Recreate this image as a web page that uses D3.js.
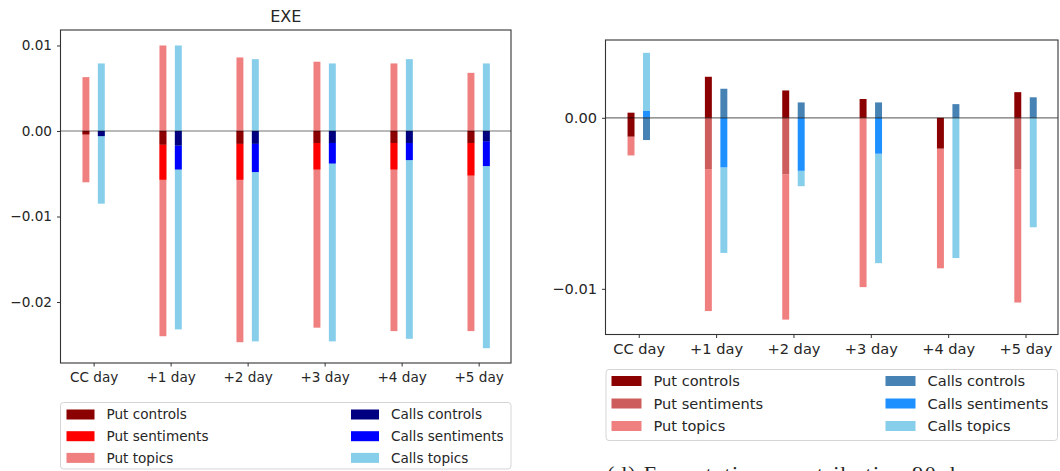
<!DOCTYPE html>
<html>
<head>
<meta charset="utf-8">
<script src="https://cdn.jsdelivr.net/npm/d3@7"></script>
<style>
  html, body { margin: 0; padding: 0; background: #fff; }
  svg { display: block; }
  text { font-family: "DejaVu Sans", sans-serif; fill: #262626; }
</style>
</head>
<body>
<svg id="chart" width="1060" height="471"></svg>
<script>
// ---------- DATA ----------
const categories = ["CC day", "+1 day", "+2 day", "+3 day", "+4 day", "+5 day"];

// Left panel (EXE): each entry is [from, to] of a bar segment
const exePutTopics   = [[0.0063, -0.0060], [0.0100, -0.0240], [0.0086, -0.0247], [0.0081, -0.0230], [0.0079, -0.0234], [0.0068, -0.0234]];
const exePutSent     = [[0, 0], [-0.0016, -0.0057], [-0.0015, -0.0057], [-0.0014, -0.0045], [-0.0014, -0.0045], [-0.0014, -0.0052]];
const exePutCtrl     = [[0, -0.0004], [0, -0.0016], [0, -0.0015], [0, -0.0014], [0, -0.0014], [0, -0.0014]];
const exeCallTopics  = [[0.0079, -0.0085], [0.0100, -0.0232], [0.0084, -0.0246], [0.0079, -0.0246], [0.0084, -0.0243], [0.0079, -0.0254]];
const exeCallSent    = [[0, 0], [-0.0017, -0.0045], [-0.0015, -0.0048], [-0.0014, -0.0038], [-0.0014, -0.0034], [-0.0012, -0.0041]];
const exeCallCtrl    = [[0, -0.0006], [0, -0.0017], [0, -0.0015], [0, -0.0014], [0, -0.0014], [0, -0.0012]];
const exeTicks = [0.01, 0.00, -0.01, -0.02];

// Right panel
const rPutTopics  = [[-0.0011, -0.0022], [-0.0030, -0.0113], [-0.0033, -0.0118], [0, -0.0099], [-0.0018, -0.0088], [-0.0030, -0.0108]];
const rPutSent    = [[0, 0], [0, -0.0030], [0, -0.0033], [0, 0], [0, 0], [0, -0.0030]];
const rPutCtrl    = [[0.0003, -0.0011], [0.0024, 0], [0.0016, 0], [0.0011, 0], [0, -0.0018], [0.0015, 0]];
const rCallTopics = [[0.0038, 0.0004], [-0.0029, -0.0079], [-0.0031, -0.0040], [-0.0021, -0.0085], [0, -0.0082], [0, -0.0064]];
const rCallSent   = [[0.0004, 0], [0, -0.0029], [0, -0.0031], [0, -0.0021], [0, 0], [0, 0]];
const rCallCtrl   = [[0, -0.0013], [0.0017, 0], [0.0009, 0], [0.0009, 0], [0.0008, 0], [0.0012, 0]];
const rTicks = [0.00, -0.01];

const legendLabels = ["Put controls", "Put sentiments", "Put topics", "Calls controls", "Calls sentiments", "Calls topics"];
const captionText = "(d) Expectations contribution 90 days";

// ---------- DRAW ----------
const svg = d3.select("#chart");
const fmt = v => d3.format(".2f")(v).replace("-", "\u2212");

function panel(cfg) {
  const g = svg.append("g");
  const x = d3.scaleLinear().domain([-0.43, 5.42]).range([cfg.left, cfg.right]);
  const y = d3.scaleLinear().domain(cfg.yDomain).range([cfg.bottom, cfg.top]);
  const bw = x(0.09) - x(0);

  const series = [
    { data: cfg.putTopics, color: cfg.colors[2], off: -0.1 },
    { data: cfg.callTopics, color: cfg.colors[5], off: 0.1 },
    { data: cfg.putSent, color: cfg.colors[1], off: -0.1 },
    { data: cfg.callSent, color: cfg.colors[4], off: 0.1 },
    { data: cfg.putCtrl, color: cfg.colors[0], off: -0.1 },
    { data: cfg.callCtrl, color: cfg.colors[3], off: 0.1 }
  ];
  series.forEach(s => {
    g.append("g").selectAll("rect")
      .data(s.data.map((d, i) => ({ i, a: d[0], b: d[1] })).filter(d => d.a !== d.b))
      .join("rect")
      .attr("x", d => x(d.i + s.off) - bw / 2)
      .attr("width", bw)
      .attr("y", d => y(Math.max(d.a, d.b)))
      .attr("height", d => Math.abs(y(d.a) - y(d.b)))
      .attr("fill", s.color);
  });

  // zero line
  g.append("line")
    .attr("x1", cfg.left).attr("x2", cfg.right)
    .attr("y1", y(0)).attr("y2", y(0))
    .attr("stroke", "rgba(0,0,0,0.55)").attr("stroke-width", 1.2);

  // frame
  g.append("rect")
    .attr("x", cfg.left).attr("y", cfg.top)
    .attr("width", cfg.right - cfg.left).attr("height", cfg.bottom - cfg.top)
    .attr("fill", "none").attr("stroke", "#333").attr("stroke-width", 1.1);

  // y axis
  const ya = g.append("g").attr("transform", `translate(${cfg.left},0)`)
    .call(d3.axisLeft(y).tickValues(cfg.ticks).tickFormat(fmt).tickSize(3.5).tickPadding(5));
  ya.select(".domain").remove();
  ya.selectAll("line").attr("stroke", "#333");
  ya.selectAll("text").style("font-size", cfg.fs + "px").attr("fill", "#262626");

  // x axis
  const xa = g.append("g").attr("transform", `translate(0,${cfg.bottom})`)
    .call(d3.axisBottom(x).tickValues(d3.range(categories.length)).tickFormat(i => categories[i]).tickSize(3.5).tickPadding(6));
  xa.select(".domain").remove();
  xa.selectAll("line").attr("stroke", "#333");
  xa.selectAll("text").style("font-size", cfg.fs + "px").attr("fill", "#262626");

  if (cfg.title) {
    g.append("text").attr("x", (cfg.left + cfg.right) / 2).attr("y", 22)
      .attr("text-anchor", "middle").style("font-size", "16px").text(cfg.title);
  }

  // legend
  const L = cfg.legend;
  g.append("rect")
    .attr("x", L.x).attr("y", L.y).attr("width", L.w).attr("height", L.h)
    .attr("rx", 3).attr("fill", "#fff").attr("stroke", "#d5d5d5").attr("stroke-width", 1);
  legendLabels.forEach((lab, k) => {
    const col = Math.floor(k / 3), row = k % 3;
    const px = L.x + (col === 0 ? L.c1 : L.c2);
    const cy = L.y + L.r0 + row * L.rs;
    g.append("rect").attr("x", px).attr("y", cy - 5).attr("width", L.pw).attr("height", 10)
      .attr("fill", cfg.colors[k]);
    g.append("text").attr("x", px + L.pw + L.gap).attr("y", cy).attr("dy", "0.36em")
      .style("font-size", cfg.fs + "px").text(lab);
  });
}

panel({
  title: "EXE",
  left: 60.5, right: 511, top: 30, bottom: 363,
  yDomain: [-0.02713, 0.01181],
  ticks: exeTicks, fs: 13.6,
  putTopics: exePutTopics, putSent: exePutSent, putCtrl: exePutCtrl,
  callTopics: exeCallTopics, callSent: exeCallSent, callCtrl: exeCallCtrl,
  colors: ["#8b0000", "#ff0000", "#f08080", "#000080", "#0000ff", "#87ceeb"],
  legend: { x: 60.5, y: 402.5, w: 450.5, h: 66.5, c1: 6, c2: 290.5, r0: 12, rs: 21.7, pw: 28, gap: 12 }
});

panel({
  title: null,
  left: 605.5, right: 1058, top: 40, bottom: 334.5,
  yDomain: [-0.01267, 0.00455],
  ticks: rTicks, fs: 14.6,
  putTopics: rPutTopics, putSent: rPutSent, putCtrl: rPutCtrl,
  callTopics: rCallTopics, callSent: rCallSent, callCtrl: rCallCtrl,
  colors: ["#8b0000", "#cd5c5c", "#f08080", "#4682b4", "#1e90ff", "#87ceeb"],
  legend: { x: 606, y: 369.5, w: 451.5, h: 71, c1: 5.5, c2: 279.5, r0: 11.5, rs: 22.5, pw: 30, gap: 12 }
});

// caption (cut off at the bottom edge, as in the reference)
svg.append("text").attr("x", 607).attr("y", 481)
  .style("font-family", "'Liberation Serif', serif").style("font-size", "22px")
  .style("letter-spacing", "1.4px")
  .attr("fill", "#222").text(captionText);
</script>
</body>
</html>
